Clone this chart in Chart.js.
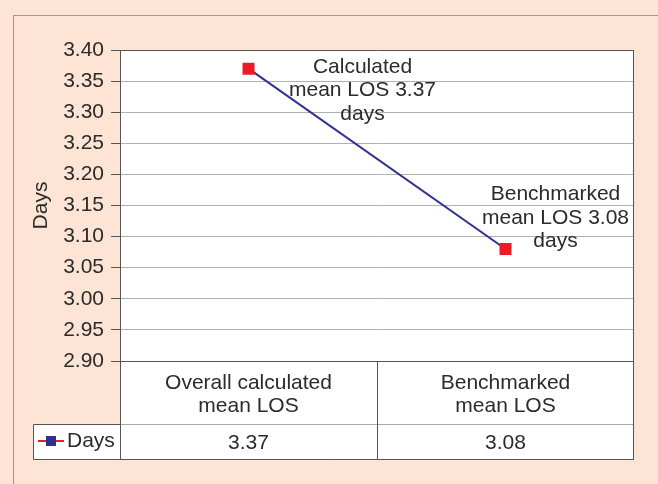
<!DOCTYPE html>
<html>
<head>
<meta charset="utf-8">
<script src="https://cdn.jsdelivr.net/npm/chart.js@4/dist/chart.umd.min.js"></script>
<style>
  html, body { margin: 0; padding: 0; background: #fde4d4; }
  #wrap { width: 658px; height: 484px; }
</style>
</head>
<body>
<div id="wrap"><canvas id="grafico" width="658" height="484"></canvas></div>
<script>
// dados do grafico
const categorias = [["Overall calculated", "mean LOS"], ["Benchmarked", "mean LOS"]];
const serieNome = "Days";
const dias = [3.37, 3.08];
const rotulosPontos = [["Calculated", "mean LOS 3.37", "days"], ["Benchmarked", "mean LOS 3.08", "days"]];
const yMin = 2.90, yMax = 3.40, yPasso = 0.05;

const fonte = "'Liberation Sans', Arial, sans-serif";
const tamFonte = 21;
const corTexto = "#2b2b2b";
// deslocamento dos rotulos em relacao ao ponto (px)
const desloc = [[114, 22], [50, -31]];

const fundoPlugin = {
    id: "fundo",
    beforeDraw(chart) {
        let c = chart.ctx, a = chart.chartArea;
        c.save();
        c.fillStyle = "#fde4d4";
        c.fillRect(0, 0, chart.width, chart.height);
        c.strokeStyle = "#9a9a9a";
        c.lineWidth = 1;
        c.strokeRect(13.5, 15.5, chart.width, chart.height);
        // area do grafico + tabela
        c.fillStyle = "#ffffff";
        c.fillRect(a.left, a.top, a.right - a.left, 459 - a.top);
        c.fillRect(33, 424, a.left - 33, 35);
        c.restore();
    },
    afterDraw(chart) {
        let c = chart.ctx, a = chart.chartArea;
        let xs = chart.scales.x;
        c.save();
        c.lineWidth = 1;
        // tabela
        let meio = (xs.getPixelForValue(0) + xs.getPixelForValue(1)) / 2;
        c.strokeStyle = "#a8a8a8";
        c.beginPath();
        c.moveTo(a.left, 424.5); c.lineTo(a.right, 424.5);
        c.stroke();
        c.strokeStyle = "#555555";
        c.beginPath();
        c.moveTo(a.left + 0.5, a.top); c.lineTo(a.left + 0.5, 459.5);
        c.moveTo(a.right - 0.5, a.top); c.lineTo(a.right - 0.5, 459.5);
        c.moveTo(Math.round(meio) + 0.5, a.bottom); c.lineTo(Math.round(meio) + 0.5, 459.5);
        c.moveTo(33.5, 459.5); c.lineTo(a.right, 459.5);
        c.moveTo(33.5, 424.5); c.lineTo(33.5, 459.5);
        c.moveTo(33.5, 424.5); c.lineTo(a.left, 424.5);
        c.stroke();

        c.fillStyle = corTexto;
        c.font = tamFonte + "px " + fonte;
        c.textAlign = "center";
        c.textBaseline = "middle";
        categorias.forEach(function(cat, i) {
            let x = xs.getPixelForValue(i);
            cat.forEach(function(linha, j) {
                c.fillText(linha, x, 383 + j * 23);
            });
            c.fillText(dias[i].toFixed(2), x, 443);
        });
        // legenda
        c.textAlign = "left";
        c.fillText(serieNome, 67, 441);
        c.strokeStyle = "#ed1c24";
        c.lineWidth = 2;
        c.beginPath();
        c.moveTo(38, 441); c.lineTo(64, 441);
        c.stroke();
        c.fillStyle = "#2e3192";
        c.fillRect(46, 436, 10, 10);

        // rotulos dos pontos
        let meta = chart.getDatasetMeta(0);
        c.fillStyle = corTexto;
        c.textAlign = "center";
        meta.data.forEach(function(pt, i) {
            let linhas = rotulosPontos[i];
            let cx = pt.x + desloc[i][0];
            let cy = pt.y + desloc[i][1];
            linhas.forEach(function(l, j) {
                c.fillText(l, cx, cy + (j - 1) * 23.5);
            });
        });
        c.restore();
    }
};

let g = document.getElementById("grafico").getContext("2d");
let graficoChart = new Chart(g, {
    type: "line",
    data: {
        labels: categorias,
        datasets: [{
            label: serieNome,
            data: dias,
            borderColor: "#2e3192",
            borderWidth: 2,
            pointStyle: "rect",
            pointRadius: 8.5,
            pointBackgroundColor: "#ed1c24",
            pointBorderColor: "#ed1c24",
            pointBorderWidth: 0,
            tension: 0
        }]
    },
    options: {
        responsive: false,
        animation: false,
        devicePixelRatio: 1,
        layout: { padding: { left: 13, top: 50, right: 24, bottom: 123 } },
        plugins: { legend: { display: false }, tooltip: { enabled: false } },
        scales: {
            x: { display: false, offset: true },
            y: {
                min: yMin,
                max: yMax,
                afterFit: function(s) { s.width = 107; },
                afterBuildTicks: function(s) {
                    let t = [];
                    for (let i = 0; i <= Math.round((yMax - yMin) / yPasso); i++) {
                        t.push({ value: +(yMin + i * yPasso).toFixed(2) });
                    }
                    s.ticks = t;
                },
                ticks: {
                    color: corTexto,
                    font: { family: fonte, size: tamFonte },
                    padding: 7,
                    callback: function(v) { return v.toFixed(2); }
                },
                grid: {
                    tickLength: 9,
                    color: function(ctx) {
                        if (ctx.tick && (ctx.tick.value === yMax || ctx.tick.value === yMin)) return "#555555";
                        return "#b0b0b0";
                    },
                    tickColor: "#555555"
                },
                border: { display: true, color: "#555555" },
                title: {
                    display: true,
                    text: "Days",
                    color: corTexto,
                    font: { family: fonte, size: tamFonte },
                    padding: { top: 16, bottom: 0 }
                }
            }
        }
    },
    plugins: [fundoPlugin]
});
</script>
</body>
</html>
